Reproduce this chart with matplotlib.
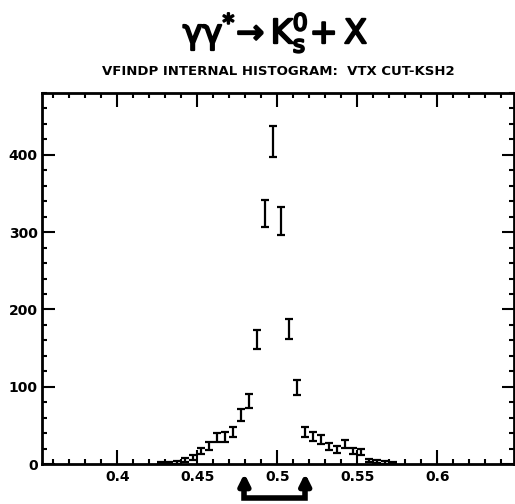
import matplotlib
matplotlib.use("Agg")
import matplotlib.pyplot as plt
import matplotlib.patheffects as pe
from matplotlib.ticker import MultipleLocator
import matplotlib.transforms as mtransforms

# Bin centres (invariant mass, GeV) and counts
mass = [0.4275, 0.4325, 0.4375, 0.4425, 0.4475, 0.4525, 0.4575, 0.4625,
        0.4675, 0.4725, 0.4775, 0.4825, 0.4875, 0.4925, 0.4975, 0.5025,
        0.5075, 0.5125, 0.5175, 0.5225, 0.5275, 0.5325, 0.5375, 0.5425,
        0.5475, 0.5525, 0.5575, 0.5625, 0.5675, 0.5725]
counts = [1, 1, 2, 5, 8, 17, 23, 34,
          35, 42, 63, 82, 161, 324, 417, 314,
          175, 99, 41, 36, 32, 23, 19, 26,
          17, 16, 4, 3, 2, 1]
errors = [1, 1, 1.4, 2.2, 3, 4, 5, 6,
          6, 6.5, 8, 9, 12.5, 18, 20, 18,
          13, 10, 6.4, 6, 5.7, 4.8, 4.4, 5,
          4, 4, 2, 1.7, 1.4, 1]

# mass window marked by the arrows under the axis
cut_lo = 0.4795
cut_hi = 0.5175

plt.rcParams["mathtext.fontset"] = "dejavusans"

fig = plt.figure(figsize=(5.15, 5.04), dpi=100)
ax = fig.add_axes([42 / 515, 1 - 464 / 504, 472 / 515, 371 / 504])

ax.errorbar(mass, counts, yerr=errors, fmt="none", ecolor="black",
            elinewidth=1.6, capsize=3, capthick=1.6)

ax.set_xlim(0.353, 0.648)
ax.set_ylim(0, 480)

ax.xaxis.set_minor_locator(MultipleLocator(0.01))
ax.yaxis.set_major_locator(MultipleLocator(100))
ax.yaxis.set_minor_locator(MultipleLocator(20))
ax.set_xticks([0.4, 0.45, 0.5, 0.55, 0.6])
ax.set_xticklabels(["0.4", "0.45", "0.5", "0.55", "0.6"])

ax.tick_params(which="both", direction="in", top=True, right=True,
               width=1.5, labelsize=10)
ax.tick_params(which="major", length=10, pad=4)
ax.tick_params(axis="y", which="major", length=9, pad=3)
ax.tick_params(which="minor", length=3.5)
for lab in ax.get_xticklabels() + ax.get_yticklabels():
    lab.set_fontweight("bold")
for sp in ax.spines.values():
    sp.set_linewidth(2)

# arrows with bracket under the x axis
trans = mtransforms.blended_transform_factory(ax.transData, ax.transAxes)
ax.plot([cut_lo, cut_lo, cut_hi, cut_hi], [-0.06, -0.092, -0.092, -0.06],
        transform=trans, color="black", lw=4, clip_on=False,
        solid_joinstyle="miter")
for xc in [cut_lo, cut_hi]:
    ax.annotate("", xy=(xc, -0.018), xytext=(xc, -0.07), xycoords=trans,
                textcoords=trans,
                arrowprops=dict(arrowstyle="-|>", lw=4, color="black",
                                mutation_scale=16))

fig.text(0.535, 0.935,
         r"$\mathrm{\gamma\gamma^{*}\!\rightarrow K_{s}^{0}\!+X}$",
         ha="center", va="center", fontsize=24,
         path_effects=[pe.withStroke(linewidth=1.5, foreground="black")])
fig.text(0.54, 1 - 72 / 504, "VFINDP INTERNAL HISTOGRAM:  VTX CUT-KSH2",
         ha="center", va="center", fontsize=9.5, fontweight="bold")

fig.savefig("out.png", dpi=100)
